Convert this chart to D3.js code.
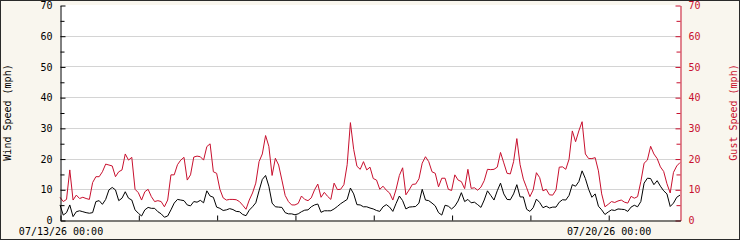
<!DOCTYPE html>
<html>
<head>
<meta charset="utf-8">
<script src="https://cdn.jsdelivr.net/npm/d3@7"></script>
<style>
  body { margin: 0; background: #fff; }
  svg { display: block; }
  text { font-family: "DejaVu Sans Mono", monospace; font-size: 10px; }
</style>
</head>
<body>
<svg id="chart" width="740" height="240"></svg>
<script>
// hourly samples starting 07/13/26 00:00
const startTime = new Date(2026, 6, 13, 0, 0);

const windSpeed = [
  4.9, 1.6, 2.4, 4.9, 1.1, 2.7, 3, 2.7, 2.4, 2.2,
  2.4, 6, 6.3, 5.1, 6.7, 9.8, 10.6, 9.8, 6.3, 7.1,
  9.2, 7.1, 6.5, 3.3, 2.2, 1.3, 3.3, 4.1, 3.8, 3.8,
  2.7, 2, 0.9, 1.3, 3.3, 5.5, 6.7, 6.5, 6.3,
  4.9, 4.6, 6, 5.8, 6.4, 5.6, 9.5, 7.8, 7.4, 4.2,
  3.8, 3.1, 3.3, 3.7, 3.4, 2.8, 2.7, 1.8, 1.4, 3.2,
  4.3, 5.6, 9.5, 13.2, 14.5, 11, 5.5, 4.3, 4.2, 4.1,
  2.4, 2, 2, 1.7, 2, 2.7, 3.2, 3.3,
  4.3, 4.9, 5.2, 2.5, 3, 3, 3, 3.6, 4.4, 5.3,
  6, 6.7, 10.4, 8.5, 5, 4.9, 4.3, 4.3, 3.9, 3.6,
  3.1, 2.8, 4.3, 5, 4.2, 2.8, 5.4, 7.8, 6.3, 3.6,
  4.2, 4.3, 4.4, 5.5, 10, 6.5, 6.3, 5.5,
  4.6, 2.4, 1.6, 4.8, 4.5, 3.6, 4.5, 6.2, 8.9, 6,
  6.7, 5.6, 5.8, 5, 4.1, 6.5, 9.5, 8, 6.5, 9.5,
  12, 8.5, 6.7, 6.6, 8.5, 11.5, 7.5, 7.5, 3.5, 2.8,
  4, 6.8, 5.7, 4, 4.5, 3.9, 4.2, 4.2,
  5.8, 6.6, 6.5, 8, 11.5, 11, 12.5, 16, 13.5, 10,
  7.4, 8.5, 4.5, 3.3, 1.8, 2.6, 3.3, 3.1, 3.6, 3.5,
  3.4, 2.8, 4.2, 4.8, 4.3, 6, 12, 13.6, 13.5, 11.5,
  12.8, 11, 9.5, 8.5, 4.4, 5.5, 7.4, 8.1
];

const gustSpeed = [
  7.4, 6, 6.7, 16.3, 6.5, 8.1, 7, 7.4, 7, 6.7,
  12.2, 14.1, 14.1, 15.7, 18.2, 17.9, 17.6, 14.1, 15.7, 16.3,
  21.5, 19.5, 20.4, 10, 8.9, 6.5, 9.2, 10, 7.6, 6,
  6.3, 6, 4.3, 6.5, 14.7, 14.7, 18, 19.5, 20.4,
  13, 14.7, 20.5, 20.8, 20.6, 19.5, 23.9, 24.8, 15.7, 15.2,
  10, 7.2, 6.5, 6.7, 6.7, 6.6, 6, 4.8, 3.5, 6.5,
  8.8, 12, 19, 21.5, 27.5, 24, 14.5, 20.1, 17.9, 13,
  8, 6, 4.9, 4.9, 5.4, 7.8, 6.7, 6.3,
  7.2, 9.8, 11.7, 7.4, 9, 7.7, 6.7, 12, 9.9, 10,
  11.5, 18, 31.7, 23, 17.5, 16.5, 19, 16.3, 17.2, 13.5,
  13, 10, 11, 9.7, 8.8, 6.5, 10, 14.5, 17, 8.2,
  9.8, 11.6, 11.7, 13.4, 18.5, 20.6, 19, 15.7,
  15.2, 10.8, 13.6, 13.6, 10, 9.6, 14.7, 13, 12.5, 10.2,
  16.5, 10.3, 10.5, 9.7, 10.7, 12.8, 16.5, 16.4, 16.5, 17.2,
  22, 18.6, 15.2, 15, 19, 26.5, 18, 13.3, 10.5, 7.6,
  9.8, 15.4, 13.8, 9.5, 10, 8.2, 8.1, 9.8,
  17.2, 17.3, 16.5, 19.8, 29, 25.5, 29, 32, 21.5, 20,
  20, 20.3, 16, 8.5, 4.3, 5.1, 6, 5.7, 6.2, 6.5,
  5.8, 5.5, 7.7, 7.1, 7.6, 12.5, 18.5, 19.5, 24, 21.5,
  20, 17.3, 15.8, 11.8, 8.8, 15.5, 17.6, 18.7
];

const yTicks = [0, 10, 20, 30, 40, 50, 60, 70];
const yMinorTicks = [5, 15, 25, 35, 45, 55, 65];
const xLabelDays = [new Date(2026, 6, 13), new Date(2026, 6, 20)];

const times = windSpeed.map((d, i) => d3.timeHour.offset(startTime, i));

const plotLeft = 60, plotRight = 680, plotTop = 5, plotBottom = 220;
const red = '#c8102e';
const svg = d3.select('#chart');

svg.append('rect')
  .attr('x', 0.5).attr('y', 0.5)
  .attr('width', 739).attr('height', 239)
  .attr('fill', '#f9f6ee')
  .attr('stroke', '#2a2a2a');

svg.append('rect')
  .attr('x', plotLeft).attr('y', plotTop)
  .attr('width', plotRight - plotLeft).attr('height', plotBottom - plotTop)
  .attr('fill', '#fff');

const x = d3.scaleTime()
  .domain([startTime, times[times.length - 1]])
  .range([plotLeft, plotRight]);

const y = d3.scaleLinear()
  .domain([0, 70])
  .range([plotBottom, plotTop]);

// grid
svg.append('g')
  .selectAll('line')
  .data(yTicks.filter(t => t > 0 && t < 70))
  .enter()
  .append('line')
  .attr('x1', plotLeft).attr('x2', plotRight)
  .attr('y1', d => Math.round(y(d)) + 0.5)
  .attr('y2', d => Math.round(y(d)) + 0.5)
  .attr('stroke', '#d4d4d4');

const line = series => d3.line()
  .x((d, i) => x(times[i]))
  .y(d => y(d))(series);

svg.append('path')
  .attr('d', line(gustSpeed))
  .attr('fill', 'none')
  .attr('stroke', red)
  .attr('stroke-width', 1);

svg.append('path')
  .attr('d', line(windSpeed))
  .attr('fill', 'none')
  .attr('stroke', '#000')
  .attr('stroke-width', 1);

// left axis
const leftAxis = svg.append('g')
  .attr('transform', 'translate(' + (plotLeft + 0.5) + ',0.5)')
  .call(d3.axisLeft(y).tickValues(yTicks).tickSizeInner(-5).tickSizeOuter(0).tickPadding(8));
leftAxis.selectAll('text').attr('fill', '#000');

svg.append('g')
  .attr('transform', 'translate(' + (plotLeft + 0.5) + ',0.5)')
  .call(d3.axisLeft(y).tickValues(yMinorTicks).tickSizeInner(-4).tickSizeOuter(0).tickFormat(''))
  .select('.domain').remove();

// right axis
const rightAxis = svg.append('g')
  .attr('transform', 'translate(' + (plotRight + 0.5) + ',0.5)')
  .call(d3.axisRight(y).tickValues(yTicks).tickSizeInner(-5).tickSizeOuter(0).tickPadding(8));
rightAxis.selectAll('line, path').attr('stroke', red);
rightAxis.selectAll('text').attr('fill', red);

svg.append('g')
  .attr('transform', 'translate(' + (plotRight + 0.5) + ',0.5)')
  .call(d3.axisRight(y).tickValues(yMinorTicks).tickSizeInner(-4).tickSizeOuter(0).tickFormat(''))
  .call(g => g.select('.domain').remove())
  .selectAll('line').attr('stroke', red);

// bottom axis
const fmt = d3.timeFormat('%m/%d/%y %H:%M');
svg.append('g')
  .attr('transform', 'translate(0.5,' + (plotBottom + 0.5) + ')')
  .call(d3.axisBottom(x).ticks(d3.timeDay.every(1)).tickSizeInner(-5).tickSizeOuter(0).tickFormat(''));

svg.append('g')
  .attr('transform', 'translate(0.5,' + (plotBottom + 0.5) + ')')
  .call(d3.axisBottom(x).tickValues(xLabelDays).tickSize(0).tickPadding(7).tickFormat(fmt))
  .call(g => g.select('.domain').remove())
  .selectAll('text').attr('fill', '#000');

svg.selectAll('.tick text').style('font-family', '"DejaVu Sans Mono", monospace').style('font-size', '10px');

// axis titles
svg.append('text')
  .attr('transform', 'translate(11,' + ((plotTop + plotBottom) / 2) + ') rotate(-90)')
  .attr('text-anchor', 'middle')
  .attr('fill', '#000')
  .text('Wind Speed (mph)');

svg.append('text')
  .attr('transform', 'translate(737,' + ((plotTop + plotBottom) / 2) + ') rotate(-90)')
  .attr('text-anchor', 'middle')
  .attr('fill', red)
  .text('Gust Speed (mph)');
</script>
</body>
</html>
